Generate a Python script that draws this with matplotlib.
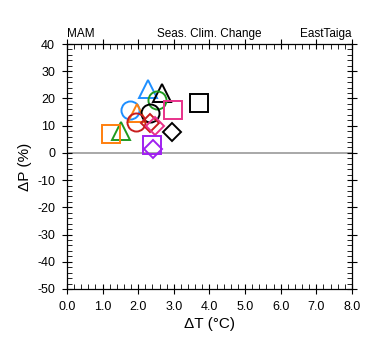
import matplotlib
matplotlib.use("Agg")
import matplotlib.pyplot as plt
from matplotlib.ticker import MultipleLocator

plt.rcParams['font.family'] = ['Liberation Sans', 'DejaVu Sans']
plt.rcParams['axes.unicode_minus'] = False

# Dane: zmiana temperatury (dT) i opadow (dP) dla modeli
dT = [2.27, 2.68, 2.52, 3.71, 2.99, 1.77, 1.96, 2.33, 1.94, 2.33, 2.47, 2.94, 1.51, 1.24, 2.38, 2.41]
dP = [23.5, 22.0, 19.5, 18.3, 15.8, 15.8, 14.5, 14.6, 11.3, 10.9, 9.7, 7.5, 8.0, 6.9, 2.9, 1.5]
markers = ['^', '^', 'o', 's', 's', 'o', '^', 'o', 'o', 'D', 'D', 'D', '^', 's', 's', 'D']
colors = ['#1e8fff', 'black', '#1f9a1f', 'black', '#e8318a', '#1e8fff', '#ff7f0e', 'black',
          '#c81e1e', '#c81e1e', '#e8318a', 'black', '#1f9a1f', '#ff7f0e', '#a020f0', '#a020f0']

rozmiary = {'^': 13, 'o': 13, 's': 12.5, 'D': 9.5}

fig = plt.figure(figsize=(3.8, 3.55), dpi=100)
ax = fig.add_axes([0.176, 0.186, 0.75, 0.69])

ax.axhline(0, color='#999999', lw=1.2, zorder=1)

for x, y, m, c in zip(dT, dP, markers, colors):
    ax.plot(x, y, marker=m, ms=rozmiary[m], mfc='none', mec=c, mew=1.4, ls='none', zorder=3)

ax.set_xlim(0, 8)
ax.set_ylim(-50, 40)
ax.xaxis.set_major_locator(MultipleLocator(1))
ax.xaxis.set_minor_locator(MultipleLocator(0.2))
ax.yaxis.set_major_locator(MultipleLocator(10))
ax.yaxis.set_minor_locator(MultipleLocator(2))
ax.set_xticklabels([f"{v:.1f}" for v in ax.get_xticks()])

ax.tick_params(which='major', direction='inout', length=7, width=0.8, top=True, right=True, labelsize=9, pad=5)
ax.tick_params(which='minor', direction='in', length=3.5, width=0.6, top=True, right=True)
for s in ax.spines.values():
    s.set_linewidth(0.9)

ax.set_xlabel("\u0394T (\u00b0C)", fontsize=11, labelpad=3)
ax.set_ylabel("\u0394P (%)", fontsize=11, labelpad=4)

ax.set_title("MAM", loc='left', fontsize=8.5, pad=5)
ax.set_title("Seas. Clim. Change", loc='center', fontsize=8.5, pad=5)
ax.set_title("EastTaiga", loc='right', fontsize=8.5, pad=5)

fig.savefig("out.png", dpi=100)
